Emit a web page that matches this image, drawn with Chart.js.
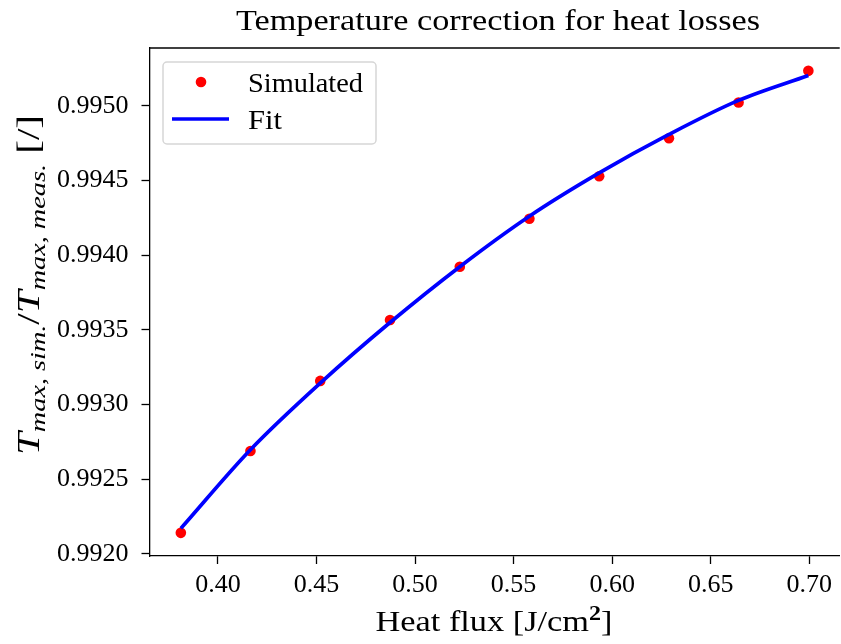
<!DOCTYPE html>
<html>
<head>
<meta charset="utf-8">
<script src="https://cdn.jsdelivr.net/npm/chart.js@4.4.0/dist/chart.umd.min.js"></script>
<style>
    html, body { margin: 0; padding: 0; background: #fff; overflow: hidden; }
    #wrap { width: 841px; height: 644px; overflow: hidden; }
</style>
</head>
<body>
<div id="wrap"><canvas id="heatChart" width="845" height="644"></canvas></div>
<script>
// data
const heatFlux = [0.3812, 0.4165, 0.4519, 0.4873, 0.5227, 0.5580, 0.5934, 0.6288, 0.6641, 0.6995];
const simulatedRatio = [0.992140, 0.992688, 0.993158, 0.993566, 0.993923, 0.994244, 0.994529, 0.994783, 0.995023, 0.995235];
const fitRatio = [0.992170, 0.992697, 0.993143, 0.993549, 0.993923, 0.994261, 0.994551, 0.994809, 0.995037, 0.995204];
const xTicks = [0.40, 0.45, 0.50, 0.55, 0.60, 0.65, 0.70];
const yTicks = [0.9920, 0.9925, 0.9930, 0.9935, 0.9940, 0.9945, 0.9950];

const serif = "'Liberation Serif', 'DejaVu Serif', serif";

const toPoints = (xs, ys) => xs.map((x, i) => ({ x: x, y: ys[i] }));

// draw a run of text pieces stretched to a given width (Computer Modern is wider than Times)
function drawRun(c, parts, cx, cy, width) {
    let total = 0;
    parts.forEach(p => { c.font = p.f; p.w = c.measureText(p.t).width; total += p.w; });
    const k = width / total;
    c.save();
    c.translate(cx - width / 2, cy);
    c.scale(k, 1);
    c.textAlign = 'left';
    c.textBaseline = 'alphabetic';
    let px = 0;
    parts.forEach(p => {
        c.font = p.f;
        c.fillText(p.t, px, p.dy || 0);
        px += p.w;
    });
    c.restore();
}

// titles, top spine and legend are drawn by hand (matplotlib-like layout)
const decorations = {
    id: 'decorations',
    afterDraw(chart) {
        const c = chart.ctx;
        const area = chart.chartArea;
        c.save();

        // top spine
        c.strokeStyle = '#000';
        c.lineWidth = 1.3;
        c.beginPath();
        c.moveTo(area.left, area.top);
        c.lineTo(area.right, area.top);
        c.stroke();

        c.fillStyle = '#000';

        // title
        drawRun(c, [{ t: 'Temperature correction for heat losses', f: '30px ' + serif }], 498, 30, 524);

        // x title
        drawRun(c, [
            { t: 'Heat flux [J/cm', f: '30px ' + serif },
            { t: '2', f: 'bold 21px ' + serif, dy: -11 },
            { t: ']', f: '30px ' + serif }
        ], 494, 631, 237);

        // y title with subscripts
        c.save();
        c.translate(39, 285);
        c.rotate(-Math.PI / 2);
        drawRun(c, [
            { t: 'T', f: 'italic 32px ' + serif },
            { t: 'max, sim.', f: 'italic 22px ' + serif, dy: 6 },
            { t: '/', f: '32px ' + serif },
            { t: 'T', f: 'italic 32px ' + serif },
            { t: 'max, meas.', f: 'italic 22px ' + serif, dy: 6 },
            { t: ' [/]', f: '32px ' + serif }
        ], 0, 0, 340);
        c.restore();

        // legend
        const lx = 163, ly = 62, lw = 213, lh = 82;
        c.fillStyle = 'rgba(255,255,255,0.8)';
        c.strokeStyle = '#d6d6d6';
        c.lineWidth = 1.5;
        c.beginPath();
        c.roundRect(lx, ly, lw, lh, 4);
        c.fill();
        c.stroke();

        c.fillStyle = '#ff0000';
        c.beginPath();
        c.arc(201, 82, 5.3, 0, Math.PI * 2);
        c.fill();

        c.strokeStyle = '#0000ff';
        c.lineWidth = 3.7;
        c.beginPath();
        c.moveTo(172, 119);
        c.lineTo(229, 119);
        c.stroke();

        c.fillStyle = '#000';
        drawRun(c, [{ t: 'Simulated', f: '28px ' + serif }], 248 + 57.5, 92, 115);
        drawRun(c, [{ t: 'Fit', f: '28px ' + serif }], 248 + 17, 129, 34);
        c.restore();
    }
};

const ctx = document.getElementById('heatChart').getContext('2d');
new Chart(ctx, {
    type: 'scatter',
    data: {
        datasets: [
            {
                label: 'Fit',
                data: toPoints(heatFlux, fitRatio),
                showLine: true,
                borderColor: '#0000ff',
                borderWidth: 3.7,
                pointRadius: 0,
                cubicInterpolationMode: 'monotone',
                order: 0
            },
            {
                label: 'Simulated',
                data: toPoints(heatFlux, simulatedRatio),
                backgroundColor: '#ff0000',
                borderWidth: 0,
                pointRadius: 5.3,
                order: 1
            }
        ]
    },
    options: {
        responsive: false,
        animation: false,
        devicePixelRatio: 1,
        layout: { padding: { left: 0, top: 48, right: 3, bottom: 0 } },
        plugins: {
            legend: { display: false },
            title: { display: false },
            tooltip: { enabled: false }
        },
        scales: {
            x: {
                type: 'linear',
                min: 0.3653,
                max: 0.7154,
                afterBuildTicks: scale => { scale.ticks = xTicks.map(v => ({ value: v })); },
                afterFit: scale => { scale.height = 88; },
                grid: { drawOnChartArea: false, tickLength: 8, tickColor: '#000', tickWidth: 1.3 },
                border: { color: '#000', width: 1.3 },
                ticks: {
                    color: '#000',
                    padding: 6,
                    maxRotation: 0,
                    font: { family: serif, size: 26 },
                    callback: v => v.toFixed(2)
                }
            },
            y: {
                min: 0.991985,
                max: 0.995388,
                afterBuildTicks: scale => { scale.ticks = yTicks.map(v => ({ value: v })); },
                afterFit: scale => { scale.width = 149.5; },
                grid: { drawOnChartArea: false, tickLength: 8, tickColor: '#000', tickWidth: 1.3 },
                border: { color: '#000', width: 1.3 },
                ticks: {
                    color: '#000',
                    padding: 13,
                    font: { family: serif, size: 26 },
                    callback: v => v.toFixed(4)
                }
            }
        }
    },
    plugins: [decorations]
});
</script>
</body>
</html>
